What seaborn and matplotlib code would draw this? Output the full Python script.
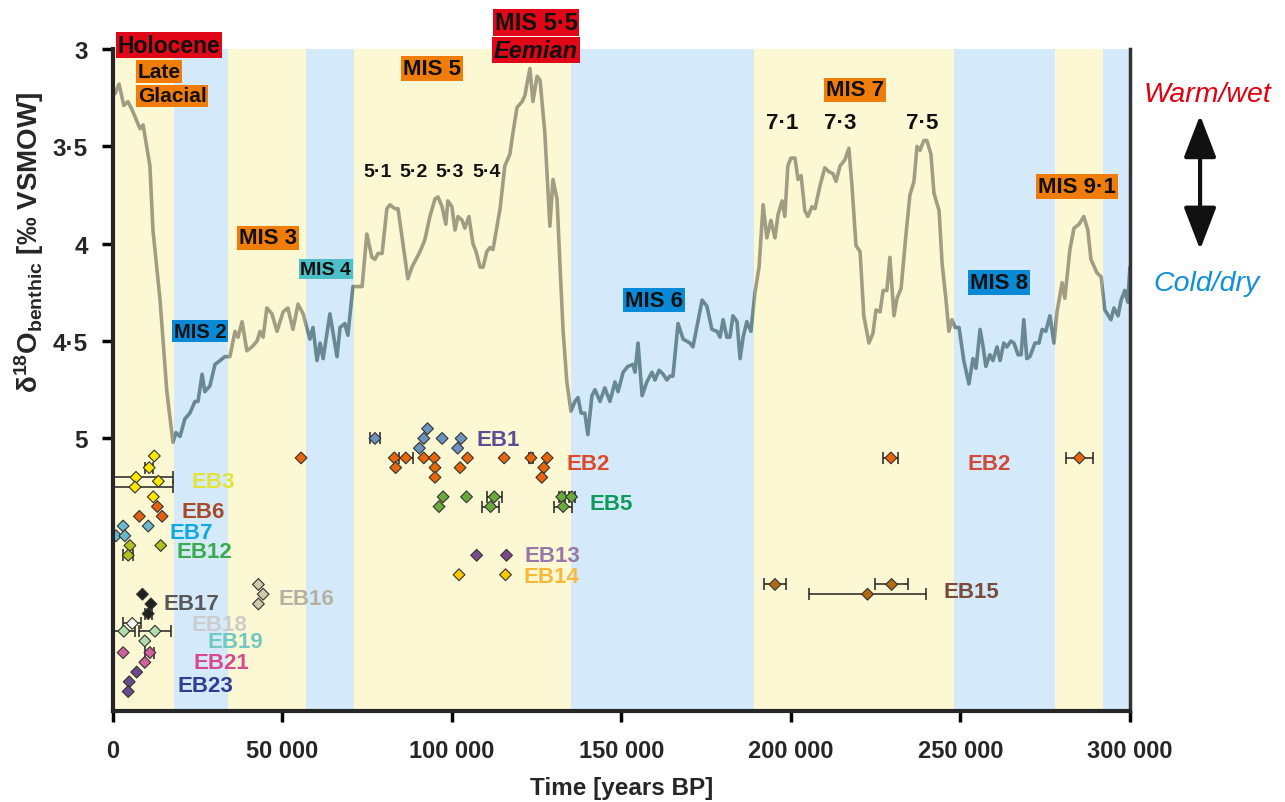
import numpy as np
import pandas as pd
import matplotlib
matplotlib.use("Agg")
import matplotlib.pyplot as plt
from matplotlib.patches import Rectangle
import seaborn as sns

# === DATA ===
# benthic d18O stack, age in ka
curve_age = [
    0.6, 1.8, 3.2, 4.4, 5.6, 8.0, 8.9, 10.9, 11.8, 13.9,
    15.9, 17.7, 18.6, 19.8, 21.2, 22.7, 24.2, 25.1, 26.3, 27.1,
    28.6, 30.1, 31.6, 33.0, 34.5, 36.0, 36.9, 38.1, 39.5, 41.0,
    42.5, 43.4, 44.3, 45.4, 46.9, 48.4, 50.2, 51.6, 53.1, 54.6,
    56.1, 58.1, 59.0, 60.2, 61.1, 62.0, 64.0, 66.1, 67.0, 68.4,
    69.3, 70.8, 72.3, 73.5, 74.9, 76.4, 77.3, 78.2, 79.4, 80.8,
    81.7, 83.2, 84.1, 87.0, 88.2, 90.6, 92.0, 93.5, 95.0, 95.9,
    97.1, 98.2, 98.8, 100.0, 100.9, 101.8, 103.0, 103.8, 105.0, 106.2,
    107.1, 108.3, 109.2, 110.3, 111.2, 112.1, 114.2, 115.6, 117.1, 118.0,
    119.2, 120.7, 121.5, 123.0, 123.9, 125.1, 126.0, 127.4, 128.9, 129.8,
    131.0, 131.9, 132.8, 133.9, 135.1, 136.3, 137.2, 138.1, 139.2, 140.1,
    141.3, 142.2, 143.7, 145.1, 146.6, 148.1, 149.0, 150.5, 151.9, 153.4,
    154.0, 154.9, 156.1, 157.5, 159.0, 159.9, 161.1, 162.3, 163.4, 164.3,
    165.2, 166.7, 168.2, 170.2, 171.1, 173.8, 175.2, 176.7, 178.2, 179.1,
    180.0, 181.1, 182.0, 182.9, 184.1, 185.0, 185.9, 187.0, 188.2, 189.4,
    190.6, 191.8, 192.9, 194.1, 195.3, 196.2, 197.4, 198.2, 199.1, 200.0,
    201.2, 202.1, 203.0, 204.1, 205.0, 206.2, 207.1, 208.6, 210.0, 211.2,
    212.4, 213.3, 214.5, 215.9, 217.1, 218.0, 219.2, 220.4, 221.5, 223.0,
    224.2, 225.1, 226.3, 227.2, 228.3, 229.2, 230.4, 231.3, 232.5, 233.9,
    235.1, 236.3, 237.2, 238.1, 239.2, 240.1, 241.3, 242.2, 243.7, 244.6,
    245.7, 246.6, 247.5, 248.4, 249.6, 251.0, 252.5, 253.7, 254.6, 255.8,
    256.7, 257.5, 258.7, 259.6, 260.8, 261.7, 262.8, 263.7, 264.9, 265.8,
    267.0, 267.9, 268.7, 269.6, 270.5, 272.0, 273.2, 274.1, 275.2, 276.4,
    277.6, 278.5, 280.0, 280.8, 282.3, 283.5, 285.0, 286.4, 287.6, 288.5,
    290.3, 291.5, 292.6, 294.4, 295.3, 296.5, 297.4, 298.5, 299.4, 300.0,
]
curve_d18o = [
    3.23, 3.18, 3.29, 3.27, 3.31, 3.41, 3.39, 3.60, 3.93, 4.29,
    4.76, 5.02, 4.97, 4.99, 4.90, 4.87, 4.81, 4.81, 4.67, 4.76,
    4.73, 4.62, 4.60, 4.58, 4.58, 4.45, 4.48, 4.40, 4.55, 4.53,
    4.50, 4.45, 4.48, 4.33, 4.36, 4.45, 4.35, 4.33, 4.44, 4.31,
    4.36, 4.49, 4.43, 4.60, 4.51, 4.59, 4.36, 4.58, 4.43, 4.41,
    4.47, 4.22, 4.22, 4.22, 3.95, 4.07, 4.08, 4.05, 4.05, 3.82,
    3.80, 3.82, 3.82, 4.18, 4.12, 4.04, 3.98, 3.86, 3.77, 3.76,
    3.81, 3.90, 3.78, 3.81, 3.93, 3.86, 3.88, 3.92, 3.86, 4.00,
    4.04, 4.12, 4.12, 4.04, 4.02, 4.03, 3.82, 3.60, 3.54, 3.43,
    3.30, 3.27, 3.24, 3.10, 3.27, 3.14, 3.16, 3.43, 3.91, 3.67,
    3.77, 4.12, 4.45, 4.71, 4.86, 4.81, 4.79, 4.87, 4.87, 4.98,
    4.78, 4.75, 4.81, 4.74, 4.81, 4.71, 4.76, 4.66, 4.63, 4.62,
    4.66, 4.51, 4.78, 4.71, 4.66, 4.70, 4.65, 4.67, 4.70, 4.68,
    4.68, 4.41, 4.49, 4.51, 4.53, 4.29, 4.32, 4.44, 4.45, 4.48,
    4.39, 4.48, 4.48, 4.37, 4.40, 4.59, 4.48, 4.40, 4.45, 4.25,
    4.12, 3.80, 3.97, 3.88, 3.97, 3.85, 3.78, 3.86, 3.60, 3.56,
    3.56, 3.67, 3.65, 3.83, 3.86, 3.81, 3.82, 3.70, 3.61, 3.63,
    3.64, 3.68, 3.60, 3.57, 3.51, 3.70, 4.01, 4.04, 4.37, 4.51,
    4.46, 4.34, 4.35, 4.24, 4.24, 4.07, 4.37, 4.28, 4.23, 3.96,
    3.75, 3.68, 3.50, 3.52, 3.47, 3.47, 3.54, 3.74, 3.83, 4.10,
    4.28, 4.45, 4.39, 4.43, 4.43, 4.60, 4.72, 4.59, 4.64, 4.44,
    4.53, 4.63, 4.57, 4.60, 4.53, 4.60, 4.51, 4.53, 4.50, 4.51,
    4.57, 4.57, 4.39, 4.59, 4.58, 4.51, 4.51, 4.44, 4.45, 4.37,
    4.51, 4.35, 4.20, 4.28, 4.03, 3.92, 3.90, 3.86, 3.93, 4.08,
    4.15, 4.17, 4.34, 4.39, 4.33, 4.37, 4.29, 4.24, 4.30, 4.12,
]

# warm / cold stage bands, ka
band_edges = [0, 18, 34, 57, 71, 135, 189, 248, 278, 292, 300]
band_warm = [True, False, True, False, True, False, True, False, True, False]

# dated samples: group, age (ka), 1-sigma (ka), plotting row
eb_group = (["EB3"] * 6 + ["EB6"] * 3 + ["EB7"] * 4 + ["EB12"] * 3 + ["EB16"] * 3
            + ["EB17"] * 3 + ["EB18"] + ["EB19"] * 3 + ["EB21"] * 3 + ["EB23"] * 3
            + ["EB2"] * 17 + ["EB1"] * 7 + ["EB5"] * 8 + ["EB13"] * 2 + ["EB14"] * 2
            + ["EB15"] * 3)
eb_age = [12.2, 10.7, 6.8, 13.4, 6.5, 11.9,
          13.1, 7.8, 14.5,
          3.0, 10.4, 0.9, 3.5,
          5.0, 14.1, 4.5,
          42.9, 44.3, 42.9,
          8.7, 11.2, 10.4,
          5.7,
          3.2, 12.4, 9.4,
          3.0, 10.9, 9.4,
          7.0, 4.8, 4.5,
          55.5, 83.0, 86.4, 91.7, 94.8, 104.6, 115.4, 123.3, 128.1,
          83.4, 95.0, 102.4, 127.1, 95.0, 126.5, 229.5, 285.1,
          77.3, 92.8, 91.7, 97.1, 102.7, 90.4, 101.7,
          97.4, 104.3, 112.5, 132.4, 135.3, 96.2, 111.4, 132.8,
          107.3, 116.1,
          102.1, 115.8,
          195.3, 229.7, 222.6]
eb_err = [0, 1.2, 10.9, 0, 11.2, 0,
          0, 0, 0,
          0, 0, 0, 0,
          0, 0, 1.4,
          0, 0, 0,
          0, 0, 1.0,
          2.7,
          3.4, 4.7, 0,
          0, 1.3, 0,
          0, 0, 0,
          0, 0, 2.0, 0, 0, 0, 0, 0.6, 0,
          0, 0, 0, 0, 0, 0, 2.2, 3.9,
          1.6, 0, 0, 0, 0, 0, 0,
          0, 0, 2.2, 0.9, 0.9, 0, 2.5, 2.6,
          0, 0,
          0, 0,
          3.3, 4.9, 17.3]
eb_row = [5.09, 5.15, 5.20, 5.22, 5.25, 5.30,
          5.35, 5.40, 5.40,
          5.45, 5.45, 5.50, 5.50,
          5.55, 5.55, 5.60,
          5.75, 5.80, 5.85,
          5.80, 5.85, 5.90,
          5.95,
          5.99, 5.99, 6.04,
          6.10, 6.10, 6.15,
          6.20, 6.25, 6.30,
          5.10, 5.10, 5.10, 5.10, 5.10, 5.10, 5.10, 5.10, 5.10,
          5.15, 5.15, 5.15, 5.15, 5.20, 5.20, 5.10, 5.10,
          5.00, 4.95, 5.00, 5.00, 5.00, 5.05, 5.05,
          5.30, 5.30, 5.30, 5.30, 5.30, 5.35, 5.35, 5.35,
          5.60, 5.60,
          5.70, 5.70,
          5.75, 5.75, 5.80]

x_tick_values = [0, 50000, 100000, 150000, 200000, 250000, 300000]
x_tick_labels = ["0", "50 000", "100 000", "150 000", "200 000", "250 000", "300 000"]
y_tick_values = [3, 3.5, 4, 4.5, 5]
y_tick_labels = ["3", "3·5", "4", "4·5", "5"]

# === STYLE ===
sns.set_style("ticks")
plt.rcParams["font.family"] = ["Liberation Sans", "DejaVu Sans"]
plt.rcParams["mathtext.fontset"] = "custom"
plt.rcParams["mathtext.rm"] = "Liberation Sans:bold"
plt.rcParams["mathtext.bf"] = "Liberation Sans:bold"
plt.rcParams["mathtext.default"] = "regular"

YELLOW = "#fdf8d4"
BLUE = "#d4eafa"
LINE_WARM = "#a09d82"
LINE_COLD = "#688892"

marker_colors = {
    "EB1": "#6b93c0", "EB2": "#e8650a", "EB3": "#ffe800", "EB5": "#6aaa3a",
    "EB6": "#e46010", "EB7": "#6ab8cc", "EB12": "#b0c020", "EB13": "#7a4a8a",
    "EB14": "#f8c800", "EB15": "#b06a10", "EB16": "#cfc8aa", "EB17": "#202020",
    "EB18": "#f6f6f6", "EB19": "#b0dcb0", "EB21": "#d060a0", "EB23": "#6a4a8a",
}

# label text, x (ka), y, colour
eb_labels = [
    ("EB1", 107.1, 5.005, "#5a4e96"), ("EB2", 133.9, 5.13, "#dd4a2a"),
    ("EB2", 252.2, 5.13, "#d04a3a"), ("EB3", 23.3, 5.22, "#e2e23a"),
    ("EB5", 140.7, 5.335, "#109a5a"), ("EB6", 20.1, 5.375, "#a84a2a"),
    ("EB7", 16.8, 5.485, "#10a8e8"), ("EB12", 18.6, 5.58, "#3aaa4a"),
    ("EB13", 121.5, 5.60, "#9878a8"), ("EB14", 121.0, 5.71, "#f8b838"),
    ("EB15", 245.1, 5.785, "#7a4a3a"), ("EB16", 48.7, 5.82, "#b4b0a4"),
    ("EB17", 15.0, 5.85, "#585858"), ("EB18", 23.3, 5.955, "#cccccc"),
    ("EB19", 28.0, 6.045, "#70c8c0"), ("EB21", 23.9, 6.15, "#d84a90"),
    ("EB23", 18.9, 6.27, "#2e3e92"),
]

# === FIGURE ===
fig = plt.figure(figsize=(12.85, 8.03), dpi=100)
ax = fig.add_axes([0.0879, 0.1133, 0.7914, 0.8244])

for x0, x1, warm in zip(band_edges[:-1], band_edges[1:], band_warm):
    ax.axvspan(x0 * 1000, x1 * 1000, color=YELLOW if warm else BLUE, lw=0, zorder=0)

# curve drawn once per band, clipped, so it takes the band's tint
curve = pd.DataFrame({"age": np.array(curve_age) * 1000, "d18o": curve_d18o})
for x0, x1, warm in zip(band_edges[:-1], band_edges[1:], band_warm):
    sns.lineplot(data=curve, x="age", y="d18o", ax=ax, estimator=None, sort=False,
                 color=LINE_WARM if warm else LINE_COLD, lw=2.6, zorder=2)
    clip = Rectangle((x0 * 1000, 2.0), (x1 - x0) * 1000, 6.0, transform=ax.transData)
    ax.lines[-1].set_clip_path(clip)

samples = pd.DataFrame({"group": eb_group, "age": np.array(eb_age) * 1000,
                        "err": np.array(eb_err) * 1000, "row": eb_row})
with_err = samples[samples["err"] > 0]
ax.errorbar(with_err["age"], with_err["row"], xerr=with_err["err"], fmt="none",
            ecolor="#222222", elinewidth=1.1, capsize=4.5, capthick=1.1, zorder=3)
sns.scatterplot(data=samples, x="age", y="row", hue="group", palette=marker_colors,
                marker="D", s=36, edgecolor="#333333", linewidth=0.8, legend=False,
                ax=ax, zorder=4)

for txt, xk, yv, c in eb_labels:
    ax.text(xk * 1000, yv, txt, color=c, fontsize=16, fontweight="bold",
            ha="left", va="center", zorder=5)

# stage labels
def stage(x, y, txt, fc, size=16, style="normal"):
    ax.text(x * 1000, y, txt, ha="center", va="center", fontsize=size,
            fontweight="bold", fontstyle=style, color="#111111", zorder=6, clip_on=False,
            bbox=dict(boxstyle="square,pad=0.08", fc=fc, ec="none"))

stage(16.5, 2.98, "Holocene", "#e00818", size=16.5)
ax.text(7.3 * 1000, 3.115, "Late", ha="left", va="center", fontsize=15, fontweight="bold",
        color="#111111", zorder=6, bbox=dict(boxstyle="square,pad=0.08", fc="#f07d0a", ec="none"))
ax.text(7.3 * 1000, 3.24, "Glacial", ha="left", va="center", fontsize=15, fontweight="bold",
        color="#111111", zorder=6, bbox=dict(boxstyle="square,pad=0.08", fc="#f07d0a", ec="none"))
stage(124.8, 2.865, "MIS 5·5", "#e00818", size=17)
stage(124.8, 3.005, "Eemian", "#e00818", size=17, style="italic")
stage(94.1, 3.10, "MIS 5", "#f07d0a")
stage(218.9, 3.21, "MIS 7", "#f07d0a")
stage(284.4, 3.705, "MIS 9·1", "#f07d0a")
stage(45.7, 3.97, "MIS 3", "#f07d0a")
stage(62.8, 4.13, "MIS 4", "#4cbfc8", size=14)
stage(25.7, 4.45, "MIS 2", "#0a8ad6", size=14.5)
stage(159.6, 4.29, "MIS 6", "#0a8ad6")
stage(261.4, 4.20, "MIS 8", "#0a8ad6")

for txt, xk in [("5·1", 78.2), ("5·2", 88.8), ("5·3", 99.4), ("5·4", 110.3)]:
    ax.text(xk * 1000, 3.627, txt, ha="center", va="center", fontsize=14,
            fontweight="bold", color="#111111", zorder=6)
for txt, xk in [("7·1", 197.4), ("7·3", 214.5), ("7·5", 238.7)]:
    ax.text(xk * 1000, 3.375, txt, ha="center", va="center", fontsize=16,
            fontweight="bold", color="#111111", zorder=6)

# climate arrow on the right
ax.text(323000, 3.23, "Warm/wet", ha="center", va="center", fontsize=20.5,
        fontstyle="italic", color="#e00010", clip_on=False)
ax.text(322700, 4.20, "Cold/dry", ha="center", va="center", fontsize=20.5,
        fontstyle="italic", color="#1090d8", clip_on=False)
ax.annotate("", xy=(320700, 3.34), xytext=(320700, 4.03), annotation_clip=False,
            arrowprops=dict(arrowstyle="<|-|>,head_length=1.3,head_width=0.5",
                            color="#111111", lw=3, mutation_scale=20, shrinkA=0, shrinkB=0))

# === AXES ===
ax.set_xlim(0, 300000)
ax.set_ylim(6.4, 3.0)
ax.set_xticks(x_tick_values)
ax.set_xticklabels(x_tick_labels, fontsize=17, fontweight="bold")
ax.set_yticks(y_tick_values)
ax.set_yticklabels(y_tick_labels, fontsize=17.5, fontweight="bold")
ax.tick_params(axis="both", direction="out", length=8, width=2.5, color="black")
ax.tick_params(axis="x", pad=12)
ax.tick_params(axis="y", pad=10)
ax.set_xlabel("Time [years BP]", fontsize=17.5, fontweight="bold", labelpad=10)
ax.set_ylabel(r"$\delta^{18}$O$_{benthic}$ [‰ VSMOW]", fontsize=20, fontweight="bold")
ax.yaxis.set_label_coords(-0.066, 0.71)

ax.spines["top"].set_visible(False)
ax.spines["left"].set_linewidth(3)
ax.spines["bottom"].set_linewidth(3)
ax.spines["right"].set_linewidth(2.5)
ax.spines["right"].set_color("#333333")
for s in ax.spines.values():
    s.set_zorder(7)

fig.savefig("out.png", dpi=100)
